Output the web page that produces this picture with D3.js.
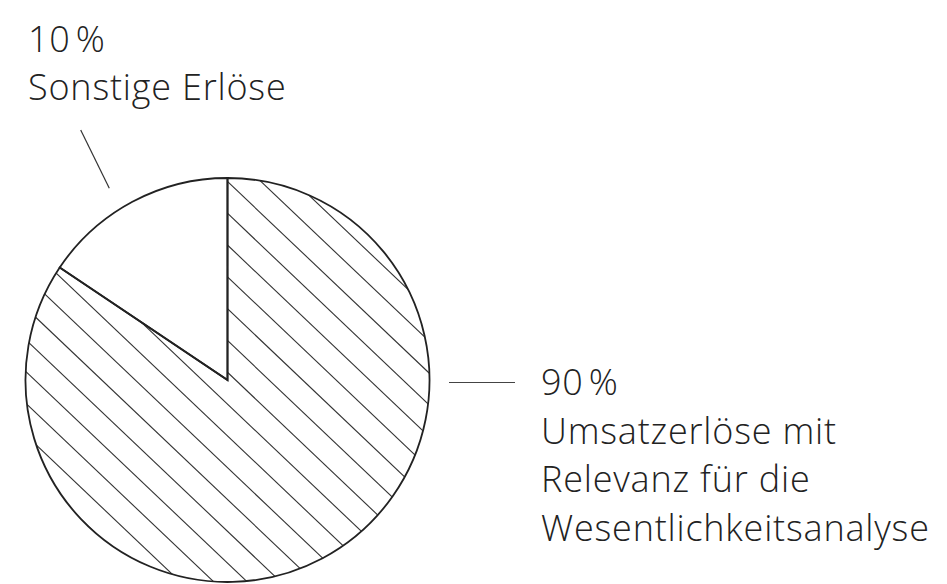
<!DOCTYPE html>
<html><head><meta charset="utf-8">
<script src="https://cdn.jsdelivr.net/npm/d3@7"></script>
<style>
html,body{margin:0;padding:0;background:#fff;}
svg{display:block;}
text{font-family:"Open Sans",Lato,sans-serif;font-weight:300;fill:#222;}
</style></head>
<body>
<svg id="chart" width="947" height="584"></svg>
<script>
// Data
const categories = ["Umsatzerlöse mit Relevanz für die Wesentlichkeitsanalyse", "Sonstige Erlöse"];
const percentLabels = ["90 %", "10 %"];
// slice sizes as drawn (angle)
const sliceShares = [84.4, 15.6];
const labelLines = [
  ["90 %", "Umsatzerlöse mit", "Relevanz für die", "Wesentlichkeitsanalyse"],
  ["10 %", "Sonstige Erlöse"]
];

const svg = d3.select("#chart");
const cx = 227.5, cy = 380, r = 202;

const pie = d3.pie().sort(null).value(d => d)(sliceShares);
const arc = d3.arc().innerRadius(0).outerRadius(r);

const g = svg.append("g").attr("transform", `translate(${cx},${cy})`);

const defs = svg.append("defs");
defs.append("clipPath").attr("id", "hatchClip")
  .append("path").attr("d", arc(pie[0]));

g.selectAll("path.slice").data(pie).join("path")
  .attr("class", "slice")
  .attr("d", arc)
  .attr("fill", "#fff")
  .attr("stroke", "none");

const slope = 0.95, vstep = 31.8;
const hatchG = g.append("g").attr("clip-path", "url(#hatchClip)");
const y0 = 213.3 - cy;
const hatchOffsets = d3.range(-30, 31).map(k => y0 + k * vstep);
hatchG.selectAll("line").data(hatchOffsets).join("line")
  .attr("x1", -r - 10).attr("y1", d => d + (-r - 10) * slope)
  .attr("x2", r + 10).attr("y2", d => d + (r + 10) * slope)
  .attr("stroke", "#333").attr("stroke-width", 1.1);

g.selectAll("path.outline").data(pie).join("path")
  .attr("class", "outline")
  .attr("d", arc)
  .attr("fill", "none")
  .attr("stroke", "#222")
  .attr("stroke-width", 1.8)
  .attr("stroke-linejoin", "miter");

svg.append("line").attr("x1", 80.7).attr("y1", 130).attr("x2", 109.3).attr("y2", 188.3)
  .attr("stroke", "#333").attr("stroke-width", 1.2);
svg.append("line").attr("x1", 449).attr("y1", 382.5).attr("x2", 515).attr("y2", 382.5)
  .attr("stroke", "#444").attr("stroke-width", 1.2);

const fs = 36, ls = 0.8;
const leftLabel = svg.append("text").attr("font-size", fs).attr("letter-spacing", ls);
labelLines[1].forEach((t, i) => {
  leftLabel.append("tspan").attr("x", 28).attr("y", 52 + i * 47.5)
    .attr("word-spacing", i === 0 ? -5 : 0).text(t);
});
const rightLabel = svg.append("text").attr("font-size", fs).attr("letter-spacing", ls);
labelLines[0].forEach((t, i) => {
  rightLabel.append("tspan").attr("x", 541).attr("y", 395 + i * 48.7)
    .attr("word-spacing", i === 0 ? -5 : 0).text(t);
});
</script>
</body></html>
